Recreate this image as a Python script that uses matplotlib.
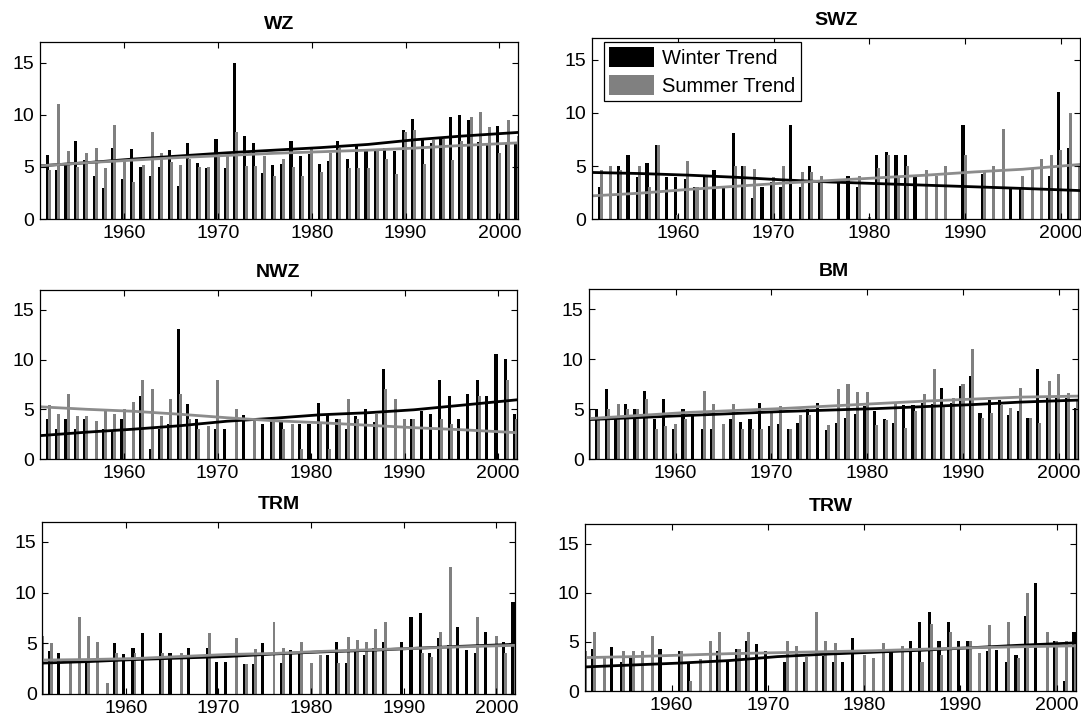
import numpy as np
import matplotlib
matplotlib.use("Agg")
import matplotlib.pyplot as plt

plt.rcParams['font.family'] = ['Liberation Sans', 'DejaVu Sans']

years = np.arange(1951, 2003)
trend_years = [1951, 1956, 1961, 1966, 1971, 1976, 1981, 1986, 1991, 1996, 2002]
nan = np.nan

# WZ
wz_winter = [nan, 6.1, 4.7, 5.2, 7.5, 5.7, 4.1, 3.0, 6.8, 3.85, 6.7,
             5.0, 4.1, 5.0, 6.6, 3.2, 7.3, 5.35, 4.9, 7.7, 4.9,
             15.0, 8.0, 7.3, 4.4, 5.2, 5.3, 7.5, 6.0, 6.2, 5.3,
             5.6, 7.5, 5.8, 7.2, 6.7, 6.5, 6.8, 6.5, 8.5, 9.6,
             7.8, 7.3, 7.75, 9.8, 10.0, 9.45, 7.4, 7.3, 8.9, 7.3, 7.2]
wz_summer = [3.0, 4.7, 11.0, 6.5, 5.0, 6.3, 6.8, 4.9, 9.0, 5.8,
             3.5, 5.2, 8.3, 6.3, 5.5, 5.2, 5.8, 5.0, 5.0, 6.0,
             6.0, 8.3, 5.1, 5.1, 6.0, 4.1, 5.8, 5.0, 4.1, 6.7,
             4.5, 6.3, 6.8, 4.9, 4.9, 4.9, 6.5, 5.8, 4.35, 8.3,
             8.55, 5.3, 7.6, 7.7, 5.7, 7.5, 9.8, 10.25, 8.8, 6.3, 9.45, 8.0]
wz_trend_w = [5.1, 5.4, 5.75, 6.05, 6.35, 6.6, 6.85, 7.15, 7.6, 7.95, 8.3]
wz_trend_s = [5.1, 5.4, 5.65, 5.9, 6.1, 6.3, 6.45, 6.6, 6.8, 7.05, 7.3]

# SWZ
swz_winter = [nan, 3.0, 0.0, 5.0, 6.0, 4.0, 5.3, 7.0, 4.0, 4.0, 3.8,
              3.0, 4.2, 4.6, 2.9, 8.1, 5.0, 2.0, 3.0, 3.5, 3.0,
              8.9, 3.0, 5.0, 3.4, 0.0, 3.4, 4.05, 3.0, 0.0, 6.0,
              6.3, 6.0, 6.0, 4.0, 0.0, 0.0, 0.0, 0.0, 8.9, 0.0,
              4.25, 0.0, 0.0, 2.8, 2.8, 0.0, 0.0, 4.05, 12.0, 6.7, 0.0]
swz_summer = [0.0, 4.6, 5.0, 4.6, 0.0, 5.0, 3.0, 7.0, 0.0, 0.4,
              5.45, 3.0, 4.0, 0.0, 0.0, 5.0, 5.0, 4.75, 0.0, 4.0,
              5.0, 0.0, 4.4, 4.4, 4.05, 0.0, 0.0, 0.0, 4.05, 0.2,
              4.8, 6.0, 4.0, 5.0, 0.0, 4.6, 4.05, 5.0, 0.0, 6.0,
              0.0, 4.5, 5.0, 8.45, 0.0, 4.05, 4.8, 5.65, 6.0, 6.5, 9.95, 5.0]
swz_trend_w = [4.4, 4.3, 4.15, 3.95, 3.7, 3.5, 3.35, 3.2, 3.05, 2.9, 2.7]
swz_trend_s = [2.2, 2.45, 2.8, 3.1, 3.4, 3.65, 3.9, 4.15, 4.45, 4.7, 5.15]

# NWZ
nwz_winter = [nan, 4.0, 3.0, 4.0, 3.0, 4.0, 0.0, 3.0, 2.9, 4.0, 0.0,
              6.3, 1.0, 3.0, 3.5, 13.1, 5.5, 4.0, 0.0, 3.0, 3.0,
              0.0, 4.4, 0.0, 3.5, 3.8, 3.8, 0.0, 3.5, 3.5, 5.6,
              4.5, 4.0, 3.0, 4.3, 5.0, 3.7, 9.05, 0.0, 0.0, 4.0,
              4.8, 4.5, 7.95, 6.3, 4.0, 6.5, 7.95, 6.3, 10.55, 10.05, 4.5]
nwz_summer = [4.0, 5.4, 4.5, 6.5, 4.3, 4.3, 3.8, 4.9, 4.5, 5.0,
              5.7, 7.9, 7.0, 4.3, 6.0, 6.5, 4.0, 3.0, 3.3, 7.9,
              0.0, 5.0, 0.0, 3.8, 0.0, 3.8, 3.0, 3.5, 1.0, 0.0,
              3.5, 1.0, 4.0, 6.0, 4.0, 0.0, 4.5, 7.0, 6.0, 4.0,
              4.0, 0.0, 0.0, 4.0, 3.5, 0.0, 0.0, 6.3, 0.0, 0.0, 7.95, 4.0]
nwz_trend_w = [2.35, 2.7, 3.0, 3.35, 3.8, 4.1, 4.45, 4.65, 4.95, 5.4, 5.95]
nwz_trend_s = [5.25, 5.0, 4.8, 4.5, 4.15, 3.85, 3.65, 3.4, 3.15, 2.95, 2.65]

# BM
bm_winter = [nan, 5.0, 7.0, 4.0, 5.5, 5.0, 6.8, 4.0, 6.0, 3.0, 5.0,
             4.3, 3.0, 3.0, 0.0, 4.0, 3.7, 4.0, 5.65, 3.3, 3.5,
             3.0, 3.65, 5.0, 5.65, 2.9, 3.6, 4.1, 4.5, 5.3, 4.8,
             4.0, 3.6, 5.4, 5.4, 5.6, 5.5, 7.1, 5.6, 7.3, 8.3,
             4.6, 5.9, 5.9, 4.4, 4.8, 4.1, 9.05, 6.1, 6.1, 6.1, 5.1]
bm_summer = [5.0, 4.0, 5.0, 5.5, 5.0, 5.0, 6.0, 3.0, 3.3, 3.5,
             4.0, 0.0, 6.8, 5.5, 3.5, 5.5, 3.0, 3.0, 3.0, 4.6,
             5.3, 3.0, 4.4, 4.4, 0.0, 3.4, 7.05, 7.55, 6.75, 6.75,
             3.4, 3.9, 5.6, 3.1, 4.8, 6.5, 9.05, 5.45, 6.15, 7.5,
             11.05, 4.1, 4.6, 5.4, 5.1, 7.1, 4.1, 3.6, 7.8, 8.55, 6.6, 6.0]
bm_trend_w = [3.95, 4.15, 4.35, 4.55, 4.75, 4.9, 5.05, 5.25, 5.45, 5.7, 5.9]
bm_trend_s = [4.05, 4.35, 4.65, 4.85, 5.05, 5.3, 5.55, 5.8, 6.0, 6.2, 6.3]

# TRM
trm_winter = [nan, 4.2, 4.0, 0.0, 0.0, 3.5, 0.0, 0.0, 5.05, 3.9, 4.5,
              6.05, 0.0, 6.05, 4.0, 0.0, 4.5, 0.0, 4.5, 3.2, 3.2,
              0.0, 3.0, 3.0, 5.05, 0.0, 3.1, 4.3, 4.0, 0.0, 0.0,
              3.85, 5.1, 3.1, 4.15, 3.85, 4.5, 5.1, 0.0, 5.1, 7.6,
              7.95, 4.05, 5.55, 4.8, 6.6, 4.3, 4.05, 6.1, 0.0, 5.1, 9.1]
trm_summer = [5.7, 5.05, 0.0, 3.5, 7.55, 5.7, 5.1, 1.05, 4.0, 0.0,
              4.0, 0.0, 0.0, 4.0, 0.0, 4.0, 0.0, 0.0, 6.05, 0.0,
              0.0, 5.5, 3.0, 4.4, 0.0, 7.1, 4.5, 0.0, 5.1, 3.1,
              3.85, 0.0, 3.1, 5.6, 5.3, 5.1, 6.4, 7.1, 0.0, 0.0,
              0.0, 4.05, 3.65, 6.1, 12.5, 0.0, 0.0, 7.6, 0.0, 5.75, 4.05, 5.0]
trm_trend_w = [3.05, 3.2, 3.4, 3.55, 3.7, 3.95, 4.15, 4.3, 4.5, 4.7, 4.9]
trm_trend_s = [3.35, 3.4, 3.5, 3.7, 3.9, 4.0, 4.2, 4.35, 4.5, 4.65, 4.8]

# TRW
trw_winter = [nan, 4.3, 0.0, 4.5, 3.0, 3.5, 0.0, 0.0, 4.3, 0.0, 4.05,
              3.0, 0.0, 0.0, 4.05, 3.0, 4.3, 5.05, 4.8, 4.05, 0.0,
              3.0, 0.0, 3.0, 0.0, 3.55, 3.0, 3.0, 5.35, 0.0, 0.0,
              0.0, 4.05, 0.0, 5.05, 7.0, 8.0, 5.05, 7.0, 5.05, 5.05,
              0.0, 4.05, 4.2, 3.0, 3.65, 7.6, 11.0, 0.0, 5.05, 1.0, 6.05]
trw_summer = [4.05, 6.05, 3.5, 0.0, 4.05, 4.05, 4.05, 5.55, 0.0, 0.0,
              4.05, 1.0, 3.3, 5.05, 6.05, 0.0, 4.3, 6.05, 0.0, 0.0,
              0.0, 5.05, 4.55, 3.5, 8.0, 5.05, 4.85, 0.0, 0.0, 3.7,
              3.35, 4.85, 0.0, 4.55, 0.0, 3.0, 6.8, 3.65, 6.05, 0.0,
              5.05, 3.9, 6.7, 0.0, 7.0, 3.35, 10.0, 0.0, 6.05, 5.05, 5.05, 5.0]
trw_trend_w = [2.45, 2.65, 2.85, 3.1, 3.5, 3.75, 3.95, 4.15, 4.4, 4.65, 4.9]
trw_trend_s = [3.4, 3.5, 3.65, 3.8, 3.9, 4.0, 4.1, 4.25, 4.4, 4.5, 4.6]

panels = [
    ('WZ', wz_winter, wz_summer, wz_trend_w, wz_trend_s, [40, 518, 41.7, 219]),
    ('SWZ', swz_winter, swz_summer, swz_trend_w, swz_trend_s, [591.7, 1080, 38.3, 219.3]),
    ('NWZ', nwz_winter, nwz_summer, nwz_trend_w, nwz_trend_s, [40, 516.7, 290, 459]),
    ('BM', bm_winter, bm_summer, bm_trend_w, bm_trend_s, [589.3, 1078, 289.3, 459]),
    ('TRM', trm_winter, trm_summer, trm_trend_w, trm_trend_s, [42.3, 515, 521.7, 694]),
    ('TRW', trw_winter, trw_summer, trw_trend_w, trw_trend_s, [585, 1076, 524, 691]),
]

W, H = 1081, 718
fig = plt.figure(figsize=(W / 100, H / 100), dpi=100)

gray_bar = '#808080'
gray_line = '#8c8c8c'

for name, win, summ, tw, ts, (x0, x1, y0, y1) in panels:
    ax = fig.add_axes([x0 / W, 1 - y1 / H, (x1 - x0) / W, (y1 - y0) / H])
    hw = ax.bar(years - 0.22, win, width=0.34, color='k', linewidth=0)
    hs = ax.bar(years, summ, width=0.32, color=gray_bar, linewidth=0)
    ax.plot(trend_years, tw, color='k', lw=2.0)
    ax.plot(trend_years, ts, color=gray_line, lw=2.0)
    ax.set_xlim(1951, 2002)
    ax.set_ylim(0, 17)
    ax.set_xticks([1960, 1970, 1980, 1990, 2000])
    ax.set_yticks([0, 5, 10, 15])
    ax.tick_params(direction='in', top=True, right=True, length=4,
                   width=0.8, labelsize=14, pad=4)
    for s in ax.spines.values():
        s.set_linewidth(0.9)
    ax.set_title(name, fontsize=14, fontweight='bold', pad=9.5)
    if name == 'SWZ':
        ax.legend([hw, hs], ['Winter Trend', 'Summer Trend'], loc='upper left',
                  bbox_to_anchor=(0.025, 0.982), fontsize=14.5, frameon=True,
                  fancybox=False, edgecolor='k', framealpha=1,
                  handlelength=2.25, handleheight=1.2, handletextpad=0.4,
                  borderpad=0.25, labelspacing=0.35, borderaxespad=0)
        ax.get_legend().get_frame().set_linewidth(0.9)

fig.savefig('out.png', dpi=100)
